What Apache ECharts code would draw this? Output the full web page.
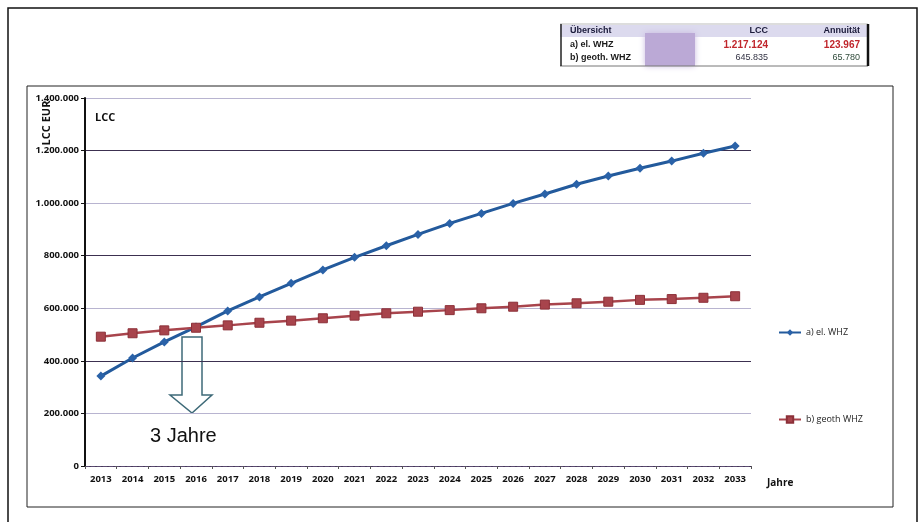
<!DOCTYPE html>
<html><head><meta charset="utf-8">
<script src="https://cdn.jsdelivr.net/npm/echarts@6/dist/echarts.min.js"></script>
<style>html,body{margin:0;padding:0;background:#fff}#c{width:923px;height:522px}</style>
</head><body><div id="c"></div>
<script>
const years = ['2013','2014','2015','2016','2017','2018','2019','2020','2021','2022','2023','2024','2025','2026','2027','2028','2029','2030','2031','2032','2033'];
const elWHZ = [342000,411000,472000,529000,590000,643000,695000,746000,794000,838000,881000,923000,961000,999000,1035000,1072000,1103000,1133000,1160000,1190000,1217124];
const geothWHZ = [492000,505000,516000,526000,535000,545000,553000,562000,572000,581000,587000,593000,600000,606000,614000,619000,625000,632000,635000,640000,645835];
const seriesNames = ['a) el. WHZ','b) geoth WHZ'];
const tableHeader = ['Übersicht','LCC','Annuität'];
const tableRowA = ['a) el. WHZ','1.217.124','123.967'];
const tableRowB = ['b) geoth. WHZ','645.835','65.780'];

const fmt = v => String(v).replace(/\B(?=(\d{3})+(?!\d))/g, '.');
const chart = echarts.init(document.getElementById('c'));
const lblFont = 'Open Sans, Liberation Sans, sans-serif';
chart.setOption({
  animation: false,
  backgroundColor: '#fff',
  grid: {left: 85, right: 172, top: 98, bottom: 56},
  legend: {
    orient: 'vertical', left: 773, top: 323, itemGap: 78,
    itemWidth: 22, itemHeight: 8,
    textStyle: {fontSize: 9, fontFamily: lblFont, color: '#222'},
    data: seriesNames
  },
  xAxis: {
    type: 'category', data: years,
    axisLine: {lineStyle: {color: '#5a4a70', width: 1, type: 'dashed'}},
    axisTick: {show: true, alignWithLabel: false, lineStyle: {color: '#555'}, length: 3},
    axisLabel: {fontSize: 9.5, fontWeight: 'bold', fontFamily: lblFont, color: '#111', margin: 8}
  },
  yAxis: {
    type: 'value', min: 0, max: 1400000, interval: 200000,
    axisLine: {show: true, lineStyle: {color: '#111', width: 2}},
    axisTick: {show: true, length: 4, lineStyle: {color: '#111'}},
    axisLabel: {fontSize: 9.5, fontWeight: 'bold', fontFamily: lblFont, color: '#111', margin: 6, formatter: fmt},
    splitLine: {lineStyle: {color: ['#3c3050', '#b8b4d0'], width: 1}}
  },
  series: [
    {name: seriesNames[0], type: 'line', data: elWHZ, symbol: 'diamond', symbolSize: 9,
     lineStyle: {color: '#235a9c', width: 3}, itemStyle: {color: '#2a62a8'}},
    {name: seriesNames[1], type: 'line', data: geothWHZ, symbol: 'rect', symbolSize: 9,
     lineStyle: {color: '#a8444c', width: 2.5}, itemStyle: {color: '#a8444c', borderColor: '#8c3038', borderWidth: 1}}
  ],
  graphic: [
    {type: 'rect', shape: {x: 8, y: 8, width: 909, height: 530}, style: {fill: null, stroke: '#111', lineWidth: 1.5}, silent: true},
    {type: 'rect', shape: {x: 27, y: 86, width: 866, height: 421}, style: {fill: null, stroke: '#222', lineWidth: 1}, silent: true},
    {type: 'text', x: 95, y: 112, style: {text: 'LCC', font: 'bold 11px ' + lblFont, fill: '#111'}},
    {type: 'text', x: 47, y: 123, rotation: Math.PI / 2, style: {text: 'LCC EUR', font: 'bold 11px ' + lblFont, fill: '#111', align: 'center', verticalAlign: 'middle'}},
    {type: 'text', x: 767, y: 478, style: {text: 'Jahre', font: 'bold 10px ' + lblFont, fill: '#111'}},
    {type: 'polygon', shape: {points: [[182,337],[202,337],[202,395],[212,395],[192,413],[170,395],[182,395]]},
     style: {fill: '#fff', stroke: '#3e6a78', lineWidth: 1.5}},
    {type: 'text', x: 150, y: 426, style: {text: '3 Jahre', font: '20px Liberation Sans, Arial, sans-serif', fill: '#111'}},
    // table
    {type: 'rect', shape: {x: 560, y: 25, width: 308, height: 12}, style: {fill: '#dcdaee'}},
    {type: 'rect', shape: {x: 645, y: 33, width: 50, height: 33}, style: {fill: '#bba9d6', shadowBlur: 6, shadowColor: '#c8b8e0'}},
    {type: 'line', shape: {x1: 560, y1: 24, x2: 868, y2: 24}, style: {stroke: '#bbb', lineWidth: 1}},
    {type: 'line', shape: {x1: 560, y1: 66, x2: 868, y2: 66}, style: {stroke: '#777', lineWidth: 1}},
    {type: 'line', shape: {x1: 561, y1: 24, x2: 561, y2: 66}, style: {stroke: '#222', lineWidth: 1.5}},
    {type: 'line', shape: {x1: 868, y1: 24, x2: 868, y2: 66}, style: {stroke: '#111', lineWidth: 2.5}},
    {type: 'text', x: 570, y: 26, style: {text: tableHeader[0], font: 'bold 9px Liberation Sans, Arial, sans-serif', fill: '#1a1a3a'}},
    {type: 'text', x: 768, y: 26, style: {text: tableHeader[1], align: 'right', font: 'bold 9px Liberation Sans, Arial, sans-serif', fill: '#1a1a3a'}},
    {type: 'text', x: 860, y: 26, style: {text: tableHeader[2], align: 'right', font: 'bold 9px Liberation Sans, Arial, sans-serif', fill: '#1a1a3a'}},
    {type: 'text', x: 570, y: 40, style: {text: tableRowA[0], font: 'bold 9px Liberation Sans, Arial, sans-serif', fill: '#1a1a1a'}},
    {type: 'text', x: 768, y: 40, style: {text: tableRowA[1], align: 'right', font: 'bold 10px Liberation Sans, Arial, sans-serif', fill: '#c0262c'}},
    {type: 'text', x: 860, y: 40, style: {text: tableRowA[2], align: 'right', font: 'bold 10px Liberation Sans, Arial, sans-serif', fill: '#c0262c'}},
    {type: 'text', x: 570, y: 53, style: {text: tableRowB[0], font: 'bold 9px Liberation Sans, Arial, sans-serif', fill: '#1a1a1a'}},
    {type: 'text', x: 768, y: 53, style: {text: tableRowB[1], align: 'right', font: '9px Liberation Sans, Arial, sans-serif', fill: '#334'}},
    {type: 'text', x: 860, y: 53, style: {text: tableRowB[2], align: 'right', font: '9px Liberation Sans, Arial, sans-serif', fill: '#2f4a3a'}}
  ]
});
</script></body></html>
